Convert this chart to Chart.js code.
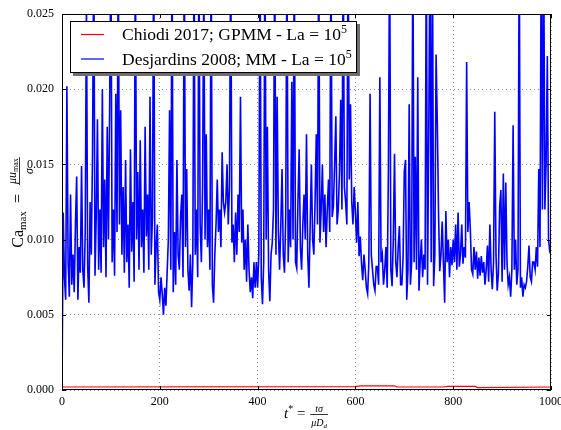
<!DOCTYPE html>
<html>
<head>
<meta charset="utf-8">
<script src="https://cdn.jsdelivr.net/npm/chart.js@4.4.1/dist/chart.umd.min.js"></script>
<style>
  html, body { margin: 0; padding: 0; background: #fff; }
</style>
</head>
<body>
<canvas id="caChart" width="561" height="430"></canvas>
<script>
// time samples t* for the Desjardins series
const tStar = [
  0, 2.5, 5, 7.5, 10, 12.5, 15, 17.5, 20, 22.5, 25, 27.5, 30, 32.5, 35, 37.5, 40, 42.5, 45, 47.5,
  50, 52.5, 55, 57.5, 60, 62.5, 65, 67.5, 70, 72.5, 75, 77.5, 80, 82.5, 85, 87.5, 90, 92.5, 95, 97.5,
  100, 102.5, 105, 107.5, 110, 112.5, 115, 117.5, 120, 122.5, 125, 127.5, 130, 132.5, 135, 137.5, 140, 142.5, 145, 147.5,
  150, 152.5, 155, 157.5, 160, 162.5, 165, 167.5, 170, 172.5, 175, 177.5, 180, 182.5, 185, 187.5, 190, 192.5, 195, 197.5,
  200, 202.5, 205, 207.5, 210, 212.5, 215, 217.5, 220, 222.5, 225, 227.5, 230, 232.5, 235, 237.5, 240, 242.5, 245, 247.5,
  250, 252.5, 255, 257.5, 260, 262.5, 265, 267.5, 270, 272.5, 275, 277.5, 280, 282.5, 285, 287.5, 290, 292.5, 295, 297.5,
  300, 302.5, 305, 307.5, 310, 312.5, 315, 317.5, 320, 322.5, 325, 327.5, 330, 332.5, 335, 337.5, 340, 342.5, 345, 347.5,
  350, 352.5, 355, 357.5, 360, 362.5, 365, 367.5, 370, 372.5, 375, 377.5, 380, 382.5, 385, 387.5, 390, 392.5, 395, 397.5,
  400, 402.5, 405, 407.5, 410, 412.5, 415, 417.5, 420, 422.5, 425, 427.5, 430, 432.5, 435, 437.5, 440, 442.5, 445, 447.5,
  450, 452.5, 455, 457.5, 460, 462.5, 465, 467.5, 470, 472.5, 475, 477.5, 480, 482.5, 485, 487.5, 490, 492.5, 495, 497.5,
  500, 502.5, 505, 507.5, 510, 512.5, 515, 517.5, 520, 522.5, 525, 527.5, 530, 532.5, 535, 537.5, 540, 542.5, 545, 547.5,
  550, 552.5, 555, 557.5, 560, 562.5, 565, 567.5, 570, 572.5, 575, 577.5, 580, 582.5, 585, 587.5, 590, 592.5, 595, 597.5,
  600, 602.5, 605, 607.5, 610, 612.5, 615, 617.5, 620, 622.5, 625, 627.5, 630, 632.5, 635, 637.5, 640, 642.5, 645, 647.5,
  650, 652.5, 655, 657.5, 660, 662.5, 665, 667.5, 670, 672.5, 675, 677.5, 680, 682.5, 685, 687.5, 690, 692.5, 695, 697.5,
  700, 702.5, 705, 707.5, 710, 712.5, 715, 717.5, 720, 722.5, 725, 727.5, 730, 732.5, 735, 737.5, 740, 742.5, 745, 747.5,
  750, 752.5, 755, 757.5, 760, 762.5, 765, 767.5, 770, 772.5, 775, 777.5, 780, 782.5, 785, 787.5, 790, 792.5, 795, 797.5,
  800, 802.5, 805, 807.5, 810, 812.5, 815, 817.5, 820, 822.5, 825, 827.5, 830, 832.5, 835, 837.5, 840, 842.5, 845, 847.5,
  850, 852.5, 855, 857.5, 860, 862.5, 865, 867.5, 870, 872.5, 875, 877.5, 880, 882.5, 885, 887.5, 890, 892.5, 895, 897.5,
  900, 902.5, 905, 907.5, 910, 912.5, 915, 917.5, 920, 922.5, 925, 927.5, 930, 932.5, 935, 937.5, 940, 942.5, 945, 947.5,
  950, 952.5, 955, 957.5, 960, 962.5, 965, 967.5, 970, 972.5, 975, 977.5, 980, 982.5, 985, 987.5, 990, 992.5, 995, 997.5,
  1000
]

// Ca_max, Desjardins 2008; MM (values above 0.025 are cut off by the axis)
const caDesjardins = [
  0.0, 0.0118, 0.0075, 0.0060, 0.0202, 0.0085, 0.0062, 0.0130, 0.0070, 0.0090, 0.0065, 0.0110, 0.0142, 0.0060, 0.0095, 0.0078, 0.0149, 0.0080, 0.0068, 0.0105,
  0.0260, 0.0082, 0.0058, 0.0125, 0.0090, 0.0160, 0.0300, 0.0076, 0.0115, 0.0180, 0.0080, 0.0120, 0.0078, 0.0200, 0.0095, 0.0140, 0.0075, 0.0175, 0.0100, 0.0190,
  0.0300, 0.0085, 0.0120, 0.0076, 0.0197, 0.0105, 0.0300, 0.0110, 0.0186, 0.0090, 0.0135, 0.0078, 0.0153, 0.0085, 0.0110, 0.0068, 0.0160, 0.0092, 0.0125, 0.0072,
  0.0300, 0.0100, 0.0145, 0.0080, 0.0166, 0.0095, 0.0120, 0.0078, 0.0175, 0.0102, 0.0130, 0.0080, 0.0195, 0.0090, 0.0115, 0.0300, 0.0070, 0.0095, 0.0110, 0.0065,
  0.0060, 0.0075, 0.0064, 0.0050, 0.0068, 0.0056, 0.0078, 0.0100, 0.0186, 0.0080, 0.0300, 0.0065, 0.0105, 0.0070, 0.0153, 0.0090, 0.0080, 0.0115, 0.0130, 0.0075,
  0.0300, 0.0095, 0.0147, 0.0080, 0.0066, 0.0090, 0.0055, 0.0085, 0.0300, 0.0090, 0.0120, 0.0075, 0.0300, 0.0110, 0.0085, 0.0135, 0.0280, 0.0100, 0.0170, 0.0095,
  0.0120, 0.0080, 0.0300, 0.0070, 0.0058, 0.0090, 0.0110, 0.0140, 0.0105, 0.0120, 0.0095, 0.0158, 0.0125, 0.0118, 0.0125, 0.0150, 0.0110, 0.0135, 0.0300, 0.0098,
  0.0110, 0.0085, 0.0118, 0.0090, 0.0130, 0.0105, 0.0195, 0.0098, 0.0120, 0.0080, 0.0100, 0.0072, 0.0110, 0.0080, 0.0065, 0.0075, 0.0061, 0.0085, 0.0068, 0.0085,
  0.0068, 0.0090, 0.0300, 0.0075, 0.0057, 0.0085, 0.0300, 0.0100, 0.0175, 0.0080, 0.0059, 0.0090, 0.0098, 0.0120, 0.0300, 0.0090, 0.0195, 0.0105, 0.0080, 0.0110,
  0.0147, 0.0090, 0.0078, 0.0115, 0.0300, 0.0085, 0.0120, 0.0095, 0.0205, 0.0100, 0.0300, 0.0085, 0.0081, 0.0125, 0.0160, 0.0095, 0.0080, 0.0110, 0.0130, 0.0100,
  0.0170, 0.0090, 0.0068, 0.0110, 0.0150, 0.0100, 0.0090, 0.0125, 0.0170, 0.0110, 0.0300, 0.0098, 0.0120, 0.0150, 0.0105, 0.0130, 0.0095, 0.0120, 0.0140, 0.0105,
  0.0300, 0.0115, 0.0122, 0.0150, 0.0182, 0.0110, 0.0120, 0.0145, 0.0193, 0.0120, 0.0300, 0.0135, 0.0125, 0.0110, 0.0300, 0.0140, 0.0190, 0.0125, 0.0110, 0.0135,
  0.0118, 0.0098, 0.0125, 0.0089, 0.0102, 0.0084, 0.0073, 0.0090, 0.0080, 0.0068, 0.0064, 0.0085, 0.0197, 0.0090, 0.0080, 0.0070, 0.0066, 0.0082, 0.0082, 0.0070,
  0.0208, 0.0085, 0.0090, 0.0070, 0.0080, 0.0095, 0.0068, 0.0147, 0.0300, 0.0080, 0.0069, 0.0100, 0.0157, 0.0085, 0.0075, 0.0095, 0.0109, 0.0070, 0.0070, 0.0088,
  0.0145, 0.0153, 0.0060, 0.0080, 0.0190, 0.0070, 0.0085, 0.0300, 0.0085, 0.0155, 0.0080, 0.0208, 0.0066, 0.0085, 0.0100, 0.0075, 0.0090, 0.0080, 0.0300, 0.0070,
  0.0170, 0.0300, 0.0085, 0.0300, 0.0069, 0.0090, 0.0223, 0.0178, 0.0118, 0.0079, 0.0090, 0.0112, 0.0085, 0.0058, 0.0119, 0.0085, 0.0100, 0.0075, 0.0095, 0.0083,
  0.0100, 0.0085, 0.0110, 0.0080, 0.0118, 0.0082, 0.0090, 0.0110, 0.0084, 0.0095, 0.0088, 0.0218, 0.0105, 0.0125, 0.0107, 0.0080, 0.0077, 0.0095, 0.0080, 0.0092,
  0.0074, 0.0088, 0.0076, 0.0089, 0.0078, 0.0085, 0.0070, 0.0080, 0.0096, 0.0072, 0.0110, 0.0080, 0.0067, 0.0085, 0.0185, 0.0090, 0.0066, 0.0078, 0.0122, 0.0133,
  0.0072, 0.0144, 0.0080, 0.0138, 0.0085, 0.0070, 0.0075, 0.0062, 0.0080, 0.0176, 0.0080, 0.0100, 0.0070, 0.0080, 0.0300, 0.0068, 0.0075, 0.0062, 0.0070, 0.0068,
  0.0072, 0.0082, 0.0096, 0.0075, 0.0072, 0.0085, 0.0085, 0.0080, 0.0095, 0.0082, 0.0147, 0.0095, 0.0300, 0.0120, 0.0300, 0.0120, 0.0151, 0.0222, 0.0100, 0.0092,
  0.0090
]

// Ca_max, Chiodi 2017; GPMM (stays close to zero)
const tChiodi = [0, 600, 610, 680, 685, 780, 790, 845, 850, 1000]
const caChiodi = [0.0002, 0.00022, 0.00028, 0.00028, 0.0002, 0.0002, 0.00024, 0.00024, 0.00016, 0.0002]

const seriesNames = ["Chiodi 2017; GPMM - ", "Desjardins 2008; MM - "]
const seriesColors = ["#ff0000", "#0000ff"]

const serif = "'Liberation Serif', 'DejaVu Serif', serif"

function toPoints(xs, ys) {
    return xs.map((x, i) => ({x: x, y: ys[i]}))
}

// width of a list of text pieces (and fractions)
function mathWidth(ctx, items) {
    let w = 0
    for (const it of items) {
        if (it.num) {
            w += Math.max(mathWidth(ctx, it.num), mathWidth(ctx, it.den)) + 4
        } else {
            ctx.font = it.font
            w += ctx.measureText(it.text).width
        }
    }
    return w
}

// draws the pieces left to right, returns the end x
function drawMath(ctx, items, x, y) {
    for (const it of items) {
        if (it.num) {
            const nw = mathWidth(ctx, it.num)
            const dw = mathWidth(ctx, it.den)
            const fw = Math.max(nw, dw) + 4
            drawMath(ctx, it.num, x + (fw - nw) / 2, y - it.up)
            drawMath(ctx, it.den, x + (fw - dw) / 2, y + it.down)
            ctx.fillRect(x + 1, y - it.bar, fw - 2, 0.8)
            x += fw
        } else {
            ctx.font = it.font
            ctx.fillText(it.text, x, y + (it.dy || 0))
            x += ctx.measureText(it.text).width
        }
    }
    return x
}

const xLabel = [
    {text: "t", font: "italic 15px " + serif},
    {text: "*", font: "10px " + serif, dy: -6},
    {text: " = ", font: "15px " + serif},
    {num: [{text: "tσ", font: "italic 10px " + serif}],
     den: [{text: "μD", font: "italic 10px " + serif}, {text: "d", font: "italic 7px " + serif, dy: 2}],
     up: 6, down: 8, bar: 4}
]

const yLabel = [
    {text: "Ca", font: "16px " + serif},
    {text: "max", font: "11px " + serif, dy: 3},
    {text: "  =  ", font: "16px " + serif},
    {num: [{text: "μu", font: "italic 12px " + serif}, {text: "max", font: "8px " + serif, dy: 2}],
     den: [{text: "σ", font: "italic 12px " + serif}],
     up: 7, down: 10, bar: 4}
]

const framePlugin = {
    id: "frame",
    afterDatasetsDraw(chart) {
        const ctx = chart.ctx
        const a = chart.chartArea
        const xs = chart.scales.x
        const ys = chart.scales.y
        ctx.save()
        ctx.strokeStyle = "#000"
        ctx.lineWidth = 1
        ctx.strokeRect(a.left + 0.5, a.top + 0.5, a.right - a.left - 1, a.bottom - a.top - 1)
        // inward tick marks on all four sides
        ctx.beginPath()
        xs.ticks.forEach(t => {
            const px = Math.round(xs.getPixelForValue(t.value)) + 0.5
            ctx.moveTo(px, a.bottom); ctx.lineTo(px, a.bottom - 4)
            ctx.moveTo(px, a.top); ctx.lineTo(px, a.top + 4)
        })
        ys.ticks.forEach(t => {
            const py = Math.round(ys.getPixelForValue(t.value)) + 0.5
            ctx.moveTo(a.left, py); ctx.lineTo(a.left + 4, py)
            ctx.moveTo(a.right, py); ctx.lineTo(a.right - 4, py)
        })
        ctx.stroke()
        ctx.restore()
    },
    afterDraw(chart) {
        const ctx = chart.ctx
        const a = chart.chartArea
        ctx.save()
        ctx.fillStyle = "#000"
        ctx.textBaseline = "alphabetic"
        ctx.textAlign = "left"

        // axis titles
        const xw = mathWidth(ctx, xLabel)
        drawMath(ctx, xLabel, (a.left + a.right) / 2 - xw / 2, 418)
        const yw = mathWidth(ctx, yLabel)
        ctx.save()
        ctx.translate(18, (a.top + a.bottom) / 2)
        ctx.rotate(-Math.PI / 2)
        drawMath(ctx, yLabel, -yw / 2, 5)
        ctx.restore()

        // legend box with shadow
        const bx = 70, by = 21, bw = 287, bh = 52
        ctx.fillStyle = "#6e6e6e"
        ctx.fillRect(bx + 3, by + 3, bw, bh)
        ctx.fillStyle = "#fff"
        ctx.fillRect(bx, by, bw, bh)
        ctx.strokeStyle = "#000"
        ctx.lineWidth = 1
        ctx.strokeRect(bx + 0.5, by + 0.5, bw - 1, bh - 1)
        seriesNames.forEach((name, i) => {
            const ly = by + 13.5 + i * 24.5
            ctx.strokeStyle = seriesColors[i]
            ctx.lineWidth = 1.2
            ctx.beginPath()
            ctx.moveTo(bx + 11, ly)
            ctx.lineTo(bx + 34, ly)
            ctx.stroke()
            ctx.fillStyle = "#000"
            drawMath(ctx, [
                {text: name, font: "17.5px " + serif},
                {text: "La = 10", font: "17.5px " + serif},
                {text: "5", font: "12px " + serif, dy: -7}
            ], bx + 52, ly + 5.5)
        })
        ctx.restore()
    }
}

const canvas = document.getElementById("caChart")
const caChart = new Chart(canvas.getContext("2d"), {
    type: "line",
    data: {
        datasets: [{
            label: seriesNames[0],
            data: toPoints(tChiodi, caChiodi),
            borderColor: seriesColors[0],
            borderWidth: 1.2,
            pointRadius: 0,
        }, {
            label: seriesNames[1],
            data: toPoints(tStar, caDesjardins),
            borderColor: seriesColors[1],
            borderWidth: 1.6,
            pointRadius: 0,
        }]
    },
    options: {
        responsive: false,
        animation: false,
        devicePixelRatio: 1,
        layout: {padding: {top: 14, right: 10, left: 0, bottom: 0}},
        plugins: {
            legend: {display: false},
            tooltip: {enabled: false},
        },
        scales: {
            x: {
                type: "linear",
                min: 0,
                max: 1000,
                ticks: {
                    stepSize: 200,
                    maxRotation: 0,
                    padding: 5,
                    color: "#000",
                    font: {family: serif, size: 12},
                    callback: v => String(v)
                },
                grid: {color: "rgba(0,0,0,0.55)", lineWidth: 0.8, drawTicks: false},
                border: {display: false, dash: [1, 3]},
                afterFit(scale) {
                    scale.height = 40
                    scale.paddingLeft = 0
                    scale.paddingRight = 0
                }
            },
            y: {
                min: 0,
                max: 0.025,
                ticks: {
                    stepSize: 0.005,
                    padding: 8,
                    color: "#000",
                    font: {family: serif, size: 12},
                    callback: v => v.toFixed(3)
                },
                grid: {color: "rgba(0,0,0,0.55)", lineWidth: 0.8, drawTicks: false},
                border: {display: false, dash: [1, 3]},
                afterFit(scale) {
                    scale.width = 62
                    scale.paddingTop = 0
                    scale.paddingBottom = 0
                }
            }
        }
    },
    plugins: [framePlugin]
})
</script>
</body>
</html>
